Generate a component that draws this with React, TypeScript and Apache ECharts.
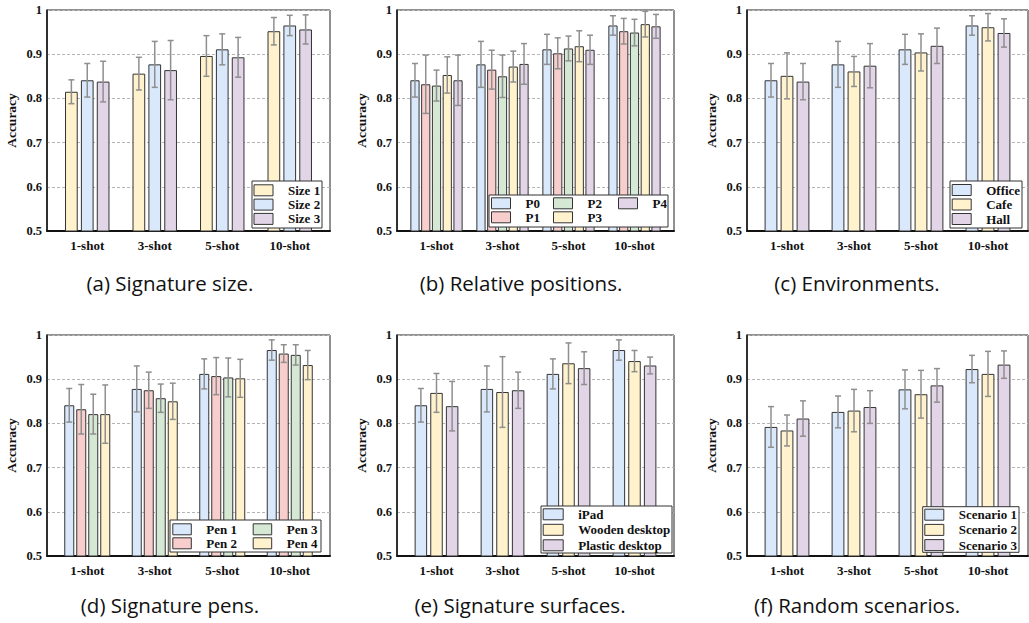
import React, { useEffect, useRef } from 'react';
import * as echarts from 'echarts';

// ---------- data ----------
const categories = ['1-shot', '3-shot', '5-shot', '10-shot'];

// (a) Signature size
const sizeNames = ['Size 1', 'Size 2', 'Size 3'];
const size1 = [0.815, 0.856, 0.896, 0.952];
const size1Err = [0.027, 0.037, 0.046, 0.031];
const size2 = [0.841, 0.877, 0.911, 0.965];
const size2Err = [0.038, 0.052, 0.035, 0.023];
const size3 = [0.838, 0.864, 0.893, 0.956];
const size3Err = [0.046, 0.067, 0.045, 0.033];

// (b) Relative positions
const posNames = ['P0', 'P1', 'P2', 'P3', 'P4'];
const p0 = [0.841, 0.877, 0.911, 0.965];
const p0Err = [0.038, 0.052, 0.034, 0.022];
const p1 = [0.832, 0.865, 0.902, 0.952];
const p1Err = [0.066, 0.044, 0.035, 0.029];
const p2 = [0.829, 0.85, 0.913, 0.949];
const p2Err = [0.035, 0.048, 0.028, 0.03];
const p3 = [0.853, 0.872, 0.918, 0.968];
const p3Err = [0.041, 0.035, 0.035, 0.029];
const p4 = [0.841, 0.878, 0.91, 0.963];
const p4Err = [0.057, 0.046, 0.033, 0.027];

// (c) Environments
const envNames = ['Office', 'Cafe', 'Hall'];
const office = [0.841, 0.877, 0.911, 0.965];
const officeErr = [0.038, 0.052, 0.034, 0.022];
const cafe = [0.851, 0.861, 0.904, 0.961];
const cafeErr = [0.052, 0.034, 0.042, 0.031];
const hall = [0.838, 0.874, 0.919, 0.948];
const hallErr = [0.041, 0.05, 0.04, 0.032];

// (d) Signature pens
const penNames = ['Pen 1', 'Pen 2', 'Pen 3', 'Pen 4'];
const pen1 = [0.841, 0.878, 0.912, 0.966];
const pen1Err = [0.038, 0.052, 0.034, 0.023];
const pen2 = [0.832, 0.875, 0.907, 0.958];
const pen2Err = [0.056, 0.041, 0.042, 0.02];
const pen3 = [0.821, 0.857, 0.904, 0.955];
const pen3Err = [0.045, 0.032, 0.044, 0.023];
const pen4 = [0.821, 0.85, 0.902, 0.932];
const pen4Err = [0.066, 0.041, 0.043, 0.033];

// (e) Signature surfaces
const surfNames = ['iPad', 'Wooden desktop', 'Plastic desktop'];
const ipad = [0.841, 0.878, 0.912, 0.966];
const ipadErr = [0.038, 0.052, 0.034, 0.023];
const wooden = [0.869, 0.871, 0.936, 0.941];
const woodenErr = [0.044, 0.08, 0.046, 0.024];
const plastic = [0.839, 0.875, 0.925, 0.931];
const plasticErr = [0.056, 0.041, 0.037, 0.019];

// (f) Random scenarios
const scenNames = ['Scenario 1', 'Scenario 2', 'Scenario 3'];
const sc1 = [0.792, 0.826, 0.877, 0.923];
const sc1Err = [0.046, 0.036, 0.044, 0.031];
const sc2 = [0.784, 0.829, 0.866, 0.912];
const sc2Err = [0.035, 0.048, 0.054, 0.051];
const sc3 = [0.811, 0.837, 0.886, 0.933];
const sc3Err = [0.04, 0.037, 0.038, 0.031];

const captions = [
  '(a) Signature size.',
  '(b) Relative positions.',
  '(c) Environments.',
  '(d) Signature pens.',
  '(e) Signature surfaces.',
  '(f) Random scenarios.',
];

// ---------- styles / layout ----------
const BLUE = '#dae8fc';
const YELLOW = '#fff2cc';
const PURPLE = '#e1d5e7';
const RED = '#f8cecc';
const GREEN = '#d5e8d4';
const SERIF = '"Liberation Serif", "Times New Roman", serif';
const SANS = '"Open Sans", "Noto Sans", sans-serif';

const panels = [
  {
    names: sizeNames, values: [size1, size2, size3], errs: [size1Err, size2Err, size3Err],
    colors: [YELLOW, BLUE, PURPLE],
    frame: { l: 47, t: 10, w: 283, h: 221 },
    barWidth: 12.7, barGap: 0.25,
    box: { x: 252, y: 181, w: 70, h: 47 },
    cols: [{ x: 253.5, idx: [0, 1, 2] }], legendTop: 183.8, itemGap: 1.3, swatch: 19,
    cap: { x: 170, y: 283 },
  },
  {
    names: posNames, values: [p0, p1, p2, p3, p4], errs: [p0Err, p1Err, p2Err, p3Err, p4Err],
    colors: [BLUE, RED, GREEN, YELLOW, PURPLE],
    frame: { l: 397, t: 10, w: 277, h: 221 },
    barWidth: 9.2, barGap: 0.17,
    box: { x: 489, y: 195, w: 179, h: 32 },
    cols: [{ x: 491, idx: [0, 1] }, { x: 553, idx: [2, 3] }, { x: 618, idx: [4] }],
    legendTop: 196.8, itemGap: 1, swatch: 19,
    cap: { x: 521, y: 283 },
  },
  {
    names: envNames, values: [office, cafe, hall], errs: [officeErr, cafeErr, hallErr],
    colors: [BLUE, YELLOW, PURPLE],
    frame: { l: 747, t: 10, w: 281, h: 221 },
    barWidth: 12.8, barGap: 0.25,
    box: { x: 950, y: 181, w: 72, h: 47 },
    cols: [{ x: 951.7, idx: [0, 1, 2] }], legendTop: 183.5, itemGap: 1.5, swatch: 19,
    cap: { x: 857, y: 283 },
  },
  {
    names: penNames, values: [pen1, pen2, pen3, pen4], errs: [pen1Err, pen2Err, pen3Err, pen4Err],
    colors: [BLUE, RED, GREEN, YELLOW],
    frame: { l: 47, t: 335, w: 283, h: 221 },
    barWidth: 10, barGap: 0.2,
    box: { x: 170, y: 520, w: 151, h: 32 },
    cols: [{ x: 172.3, idx: [0, 1] }, { x: 252.7, idx: [2, 3] }],
    legendTop: 522.8, itemGap: 1, swatch: 18.5,
    cap: { x: 170, y: 605 },
  },
  {
    names: surfNames, values: [ipad, wooden, plastic], errs: [ipadErr, woodenErr, plasticErr],
    colors: [BLUE, YELLOW, PURPLE],
    frame: { l: 397, t: 335, w: 277, h: 221 },
    barWidth: 12.5, barGap: 0.25,
    box: { x: 541, y: 506, w: 131, h: 47 },
    cols: [{ x: 542.7, idx: [0, 1, 2] }], legendTop: 507.8, itemGap: 2.5, swatch: 20,
    cap: { x: 520, y: 605 },
  },
  {
    names: scenNames, values: [sc1, sc2, sc3], errs: [sc1Err, sc2Err, sc3Err],
    colors: [BLUE, YELLOW, PURPLE],
    frame: { l: 747, t: 335, w: 281, h: 221 },
    barWidth: 12.8, barGap: 0.25,
    box: { x: 922.7, y: 506.7, w: 96.3, h: 45.6 },
    cols: [{ x: 924.3, idx: [0, 1, 2] }], legendTop: 508.2, itemGap: 2.2, swatch: 19,
    cap: { x: 857, y: 605 },
  },
];

function buildOption() {
  const grid: any[] = [];
  const xAxis: any[] = [];
  const yAxis: any[] = [];
  const series: any[] = [];
  const legend: any[] = [];
  const graphic: any[] = [];

  panels.forEach((p, pi) => {
    const f = p.frame;
    const frameIdx = grid.length;
    // frame grid (box, y axis, gridlines)
    grid.push({
      left: f.l, top: f.t, width: f.w, height: f.h,
      show: true, borderColor: '#222', borderWidth: 1, backgroundColor: 'transparent',
    });
    xAxis.push({
      gridIndex: frameIdx, type: 'value', min: 0, max: 1, show: true,
      axisLine: { show: true, lineStyle: { color: '#111', width: 2 } },
      axisTick: { show: false }, axisLabel: { show: false }, splitLine: { show: false },
    });
    yAxis.push({
      gridIndex: frameIdx, type: 'value', min: 0.5, max: 1, interval: 0.1,
      name: 'Accuracy', nameLocation: 'middle', nameGap: 29,
      nameTextStyle: { fontFamily: SERIF, fontWeight: 'bold', fontSize: 13.5, color: '#111' },
      axisLine: { show: true, lineStyle: { color: '#111', width: 1.5 } },
      axisTick: { show: false },
      axisLabel: {
        margin: 5, fontFamily: SERIF, fontWeight: 'bold', fontSize: 12.5, color: '#111',
        formatter: (v: number) => (Math.abs(v - 1) < 1e-9 ? '1' : v.toFixed(1)),
      },
      splitLine: { show: true, lineStyle: { color: '#b5b5b5', width: 1, type: [3, 2] } },
    });

    // bar grid (inset so groups sit as in the reference)
    const barIdx = grid.length;
    grid.push({ left: f.l + 6.5, top: f.t, width: f.w - 13, height: f.h });
    xAxis.push({
      gridIndex: barIdx, type: 'category', data: categories,
      axisLine: { show: false }, axisTick: { show: false },
      axisLabel: { margin: 7.5, fontFamily: SERIF, fontWeight: 'bold', fontSize: 13, color: '#111' },
      splitLine: { show: false },
    });
    yAxis.push({ gridIndex: barIdx, type: 'value', min: 0.5, max: 1, show: false, splitLine: { show: false } });

    const n = p.names.length;
    const gapPx = p.barWidth * p.barGap;
    p.names.forEach((name, si) => {
      series.push({
        type: 'bar', name, xAxisIndex: barIdx, yAxisIndex: barIdx,
        data: p.values[si], barWidth: p.barWidth, barGap: `${p.barGap * 100}%`,
        itemStyle: { color: p.colors[si], borderColor: '#333', borderWidth: 1 },
        z: 2,
      });
      const offset = (si - (n - 1) / 2) * (p.barWidth + gapPx);
      series.push({
        type: 'custom', name: `err-${name}`, xAxisIndex: barIdx, yAxisIndex: barIdx,
        data: p.values[si].map((v, ci) => [ci, v, p.errs[si][ci]]),
        encode: { x: 0, y: 1 }, z: 3, clip: false,
        renderItem: (params: any, api: any) => {
          const ci = api.value(0);
          const v = api.value(1);
          const e = api.value(2);
          const hi = api.coord([ci, v + e]);
          const lo = api.coord([ci, v - e]);
          const x = hi[0] + offset;
          const st = { stroke: '#8f8f8f', lineWidth: 1.5 };
          const cw = 3;
          return {
            type: 'group',
            children: [
              { type: 'line', shape: { x1: x, y1: hi[1], x2: x, y2: lo[1] }, style: st },
              { type: 'line', shape: { x1: x - cw, y1: hi[1], x2: x + cw, y2: hi[1] }, style: st },
              { type: 'line', shape: { x1: x - cw, y1: lo[1], x2: x + cw, y2: lo[1] }, style: st },
            ],
          };
        },
      });
    });

    // legend box
    graphic.push({
      type: 'rect', z: 5,
      shape: { x: p.box.x, y: p.box.y, width: p.box.w, height: p.box.h },
      style: { fill: '#fff', stroke: '#333', lineWidth: 1 },
    });
    p.cols.forEach((c) => {
      legend.push({
        orient: 'vertical', left: c.x, top: p.legendTop, padding: 0,
        itemGap: p.itemGap, itemWidth: p.swatch, itemHeight: 11, icon: 'rect',
        selectedMode: false, z: 6,
        data: c.idx.map((i) => p.names[i]),
        itemStyle: { borderColor: '#333', borderWidth: 1 },
        textStyle: {
          fontFamily: SERIF, fontWeight: 'bold', fontSize: 13, lineHeight: 13, color: '#111',
          padding: [0, 0, 0, 10],
        },
      });
    });

    graphic.push({
      type: 'text', x: p.cap.x, y: p.cap.y,
      style: {
        text: captions[pi], fill: '#111', font: `20.5px ${SANS}`,
        align: 'center', verticalAlign: 'middle', textAlign: 'center', textVerticalAlign: 'middle',
      },
    });
  });

  return { animation: false, backgroundColor: '#fff', grid, xAxis, yAxis, series, legend, graphic };
}

export default function App() {
  const ref = useRef<HTMLDivElement>(null);
  useEffect(() => {
    if (!ref.current) return;
    const chart = echarts.init(ref.current, undefined, { renderer: 'svg' });
    chart.setOption(buildOption() as any);
    return () => chart.dispose();
  }, []);
  return (
    <div
      ref={ref}
      style={{ position: 'absolute', left: 0, top: 0, width: 1029, height: 623 }}
    />
  );
}
